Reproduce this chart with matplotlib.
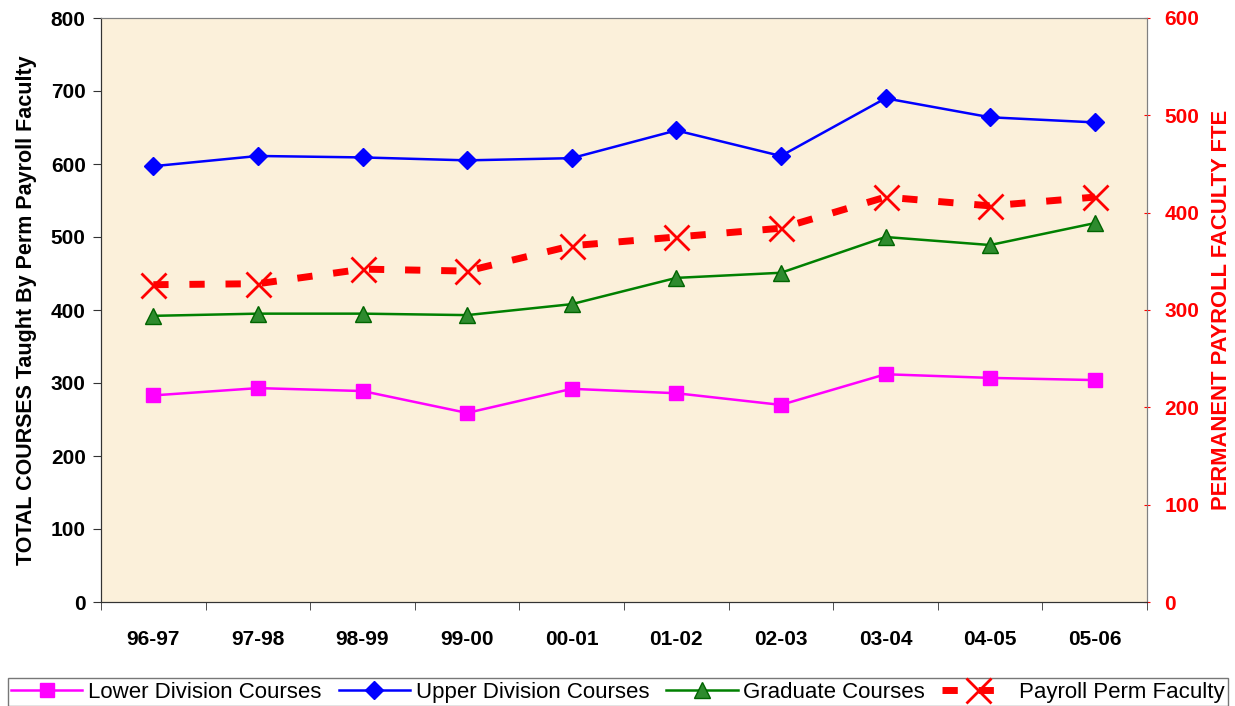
import matplotlib.pyplot as plt
import numpy as np

plt.rcParams['font.family'] = ['Liberation Sans', 'DejaVu Sans']

years = ["96-97", "97-98", "98-99", "99-00", "00-01", "01-02", "02-03", "03-04", "04-05", "05-06"]
lower_div = [283, 293, 289, 259, 292, 286, 270, 312, 307, 304]
upper_div = [597, 611, 609, 605, 608, 646, 611, 690, 664, 657]
graduate = [392, 395, 395, 393, 408, 444, 451, 500, 489, 519]
payroll_fte = [326, 327, 342, 340, 366, 375, 384, 416, 407, 416]

x = np.arange(len(years))

fig = plt.figure(figsize=(12.35, 7.06), dpi=100)
ax = fig.add_axes([101 / 1235, 1 - 602 / 706, 1046 / 1235, 584 / 706])
ax.set_facecolor('#FBF0DA')
ax2 = ax.twinx()

l1, = ax.plot(x, lower_div, color='#FF00FF', lw=1.8, marker='s', ms=10,
              label='Lower Division Courses', zorder=3)
l2, = ax.plot(x, upper_div, color='#0000FF', lw=1.8, marker='D', ms=9,
              label='Upper Division Courses', zorder=3)
l3, = ax.plot(x, graduate, color='#008000', lw=1.8, marker='^', ms=11,
              mfc='#2E8B2E', mec='#006400', label='Graduate Courses', zorder=3)
l4, = ax2.plot(x, payroll_fte, color='#FF0000', lw=5, dashes=(2.2, 3),
               marker='x', ms=18, mew=2, label='Payroll Perm Faculty')

ax.set_xlim(-0.5, len(years) - 0.5)
ax.set_ylim(0, 800)
ax.set_yticks(range(0, 801, 100))
ax2.set_ylim(0, 600)
ax2.set_yticks(range(0, 601, 100))

ax.set_xticks(x)
ax.set_xticklabels(years, fontsize=15, fontweight='bold')
ax.set_xticks(np.arange(-0.5, len(years), 1), minor=True)
ax.tick_params(axis='x', which='major', length=0, pad=20)
ax.tick_params(axis='x', which='minor', length=6, color='#333333')
ax.tick_params(axis='y', labelsize=15, length=6, color='#333333', pad=5)
for lab in ax.get_yticklabels():
    lab.set_fontweight('bold')

ax2.tick_params(axis='y', colors='#FF0000', labelsize=15, length=5, direction='inout', pad=10)
for lab in ax2.get_yticklabels():
    lab.set_fontweight('bold')

ax.set_ylabel('TOTAL COURSES Taught By Perm Payroll Faculty', fontsize=15.5,
              fontweight='bold', labelpad=10)
ax2.set_ylabel('PERMANENT PAYROLL FACULTY FTE', fontsize=15.8, fontweight='bold',
               color='#FF0000')
ax2.yaxis.set_label_coords(1.061, 0.5)

for a in (ax, ax2):
    a.spines['top'].set_color('#808080')
    a.spines['right'].set_color('#808080')
    a.spines['left'].set_color('#333333')
    a.spines['bottom'].set_color('#333333')

leg = fig.legend(handles=[l1, l2, l3, l4], loc='lower left', ncol=4, mode='expand',
                 bbox_to_anchor=(8 / 1235, 0.0, 1220 / 1235, 33 / 706), fontsize=16,
                 frameon=True, fancybox=False, edgecolor='#555555', handlelength=3.2,
                 columnspacing=0.3, handletextpad=0.25, borderpad=0.15,
                 borderaxespad=0)
leg.get_frame().set_linewidth(1)

fig.savefig('out.png', dpi=100)
